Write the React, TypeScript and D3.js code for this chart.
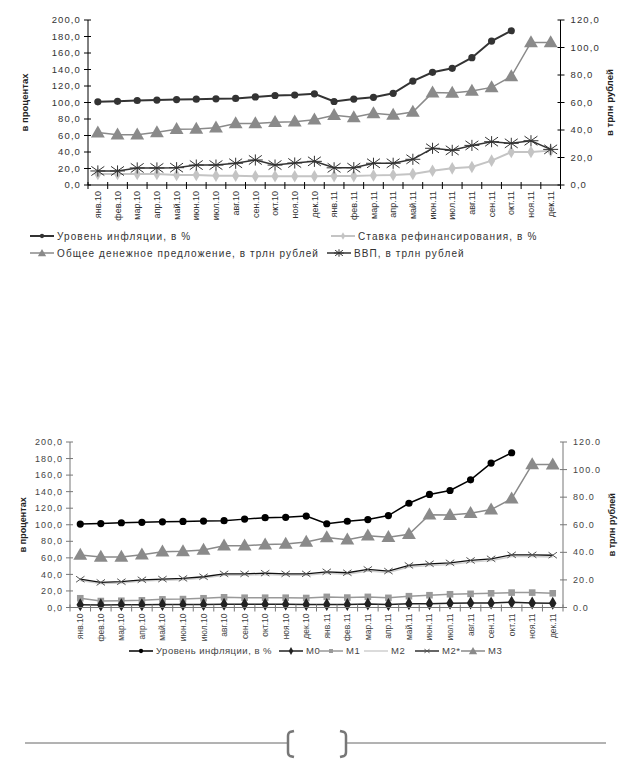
import * as d3 from 'd3';

// categories
const months = ['янв.10', 'фев.10', 'мар.10', 'апр.10', 'май.10', 'июн.10', 'июл.10', 'авг.10', 'сен.10', 'окт.10', 'ноя.10', 'дек.10',
  'янв.11', 'фев.11', 'мар.11', 'апр.11', 'май.11', 'июн.11', 'июл.11', 'авг.11', 'сен.11', 'окт.11', 'ноя.11', 'дек.11'];

// series values
const inflation = [100.8, 101.4, 102.4, 102.9, 103.5, 104.0, 104.5, 104.9, 106.8, 108.5, 109.0, 110.5,
  101.2, 104.2, 106.3, 111.1, 126.0, 136.6, 141.4, 154.3, 174.5, 187.0, null, null];
const refRate = [8.0, 8.0, 8.0, 8.0, 7.3, 7.3, 6.8, 6.8, 6.4, 6.4, 6.4, 6.4,
  6.5, 6.5, 7.0, 7.3, 8.0, 10.4, 12.1, 13.1, 17.7, 24.0, 24.0, 25.0];
const moneySupply = [38.1, 36.6, 36.6, 38.3, 40.5, 40.7, 41.7, 44.8, 44.8, 45.6, 46.0, 47.5,
  50.8, 49.2, 52.1, 50.9, 53.1, 67.2, 67.0, 68.4, 71.0, 78.9, 103.7, 103.6];
const gdp = [10.2, 10.2, 12.4, 12.4, 12.6, 14.5, 14.5, 15.8, 18.2, 14.5, 16.0, 17.2,
  12.5, 12.6, 15.8, 15.8, 18.7, 26.7, 25.2, 28.8, 31.5, 30.3, 32.2, 25.9];
const m0 = [2.0, 1.9, 2.0, 2.0, 2.1, 2.1, 2.2, 2.3, 2.3, 2.4, 2.4, 2.2,
  2.2, 2.2, 2.6, 2.2, 2.8, 2.8, 3.1, 3.3, 3.3, 3.8, 3.3, 3.1];
const m1 = [6.7, 4.7, 4.9, 5.2, 5.9, 6.1, 6.7, 7.4, 7.1, 7.1, 7.1, 6.9,
  7.7, 7.2, 7.7, 7.0, 8.2, 8.9, 9.6, 9.9, 10.3, 10.8, 10.8, 10.3];
const m2 = [19.6, 17.4, 17.8, 19.2, 19.7, 20.2, 21.4, 23.4, 23.4, 23.9, 23.4, 23.4,
  24.8, 24.1, 26.5, 25.3, 29.3, 30.5, 31.2, 32.9, 34.1, 36.9, 36.9, 36.6];
const m2star = [20.5, 18.2, 18.7, 20.1, 20.6, 21.1, 22.3, 24.4, 24.4, 24.9, 24.4, 24.4,
  25.9, 25.2, 27.6, 26.4, 30.5, 31.7, 32.4, 34.1, 35.3, 38.2, 38.2, 37.9];

// tick labels
const leftTicks = [0, 20, 40, 60, 80, 100, 120, 140, 160, 180, 200];
const rightTicks = [0, 20, 40, 60, 80, 100, 120];

const FONT = '"Liberation Sans", Arial, sans-serif';

type MarkerType = 'circle' | 'triangle' | 'diamond' | 'square' | 'star' | 'cross' | 'none';

type Series = {
  name: string
  values: (number | null)[]
  axis: 'left' | 'right'
  line: string
  fill: string
  marker: MarkerType
  width: number
  size: number
}

type LegendItem = { series: Series, x: number, y: number }

type ChartConfig = {
  left: number
  right: number
  top: number
  bottom: number
  series: Series[]
  legend: LegendItem[]
  textColor: string
  axisColor: string
  fontSize: number
  spacing: number
  legendSpacing: number
  rightSep: string
  titleLeft: number
  titleRight: number
}

const Marker = ({type, x, y, fill, stroke, size}: {type: MarkerType, x: number, y: number, fill: string, stroke: string, size: number}) => {
  switch (type) {
    case 'circle':
      return <circle cx={x} cy={y} r={size} fill={fill}/>;
    case 'triangle':
      return <path transform={`translate(${x},${y + 0.8})`} d={d3.symbol(d3.symbolTriangle, size * size * 5.2)() || ''} fill={fill}/>;
    case 'diamond':
      return <path transform={`translate(${x},${y})`} d={d3.symbol(d3.symbolDiamond, size * size * 4.5)() || ''} fill={fill}/>;
    case 'square':
      return <rect x={x - size} y={y - size} width={size * 2} height={size * 2} fill={fill}/>;
    case 'star': {
      const w = size * 1.7, h = size * 1.2;
      return <path d={`M${x - w},${y - h}L${x + w},${y + h}M${x - w},${y + h}L${x + w},${y - h}M${x},${y - h - 1}L${x},${y + h + 1}M${x - w - 1},${y}L${x + w + 1},${y}`}
                   stroke={stroke} strokeWidth={1} fill="none"/>;
    }
    case 'cross': {
      const w = size * 1.4, h = size;
      return <path d={`M${x - w},${y - h}L${x + w},${y + h}M${x - w},${y + h}L${x + w},${y - h}`}
                   stroke={stroke} strokeWidth={1} fill="none"/>;
    }
    default:
      return null;
  }
}

const Chart = ({cfg}: {cfg: ChartConfig}) => {
  const x = d3.scaleBand<string>().domain(months).range([cfg.left, cfg.right]);
  const yL = d3.scaleLinear().domain([0, 200]).range([cfg.bottom, cfg.top]);
  const yR = d3.scaleLinear().domain([0, 120]).range([cfg.bottom, cfg.top]);
  const cx = (i: number) => (x(months[i]) || 0) + x.bandwidth() / 2;
  const fmtL = (v: number) => d3.format('.1f')(v).replace('.', ',');
  const fmtR = (v: number) => d3.format('.1f')(v).replace('.', cfg.rightSep);
  const midY = (cfg.top + cfg.bottom) / 2;
  const txt = {fontFamily: FONT, fontSize: cfg.fontSize, fill: cfg.textColor, letterSpacing: cfg.spacing};

  return <g>
    {/* series lines and markers */}
    {cfg.series.map(s => {
      const y = s.axis === 'left' ? yL : yR;
      const line = d3.line<number | null>()
        .defined(d => d !== null)
        .x((_, i) => cx(i))
        .y(d => y(d as number));
      return <g key={s.name}>
        <path d={line(s.values) || ''} fill="none" stroke={s.line} strokeWidth={s.width}/>
        {s.values.map((v, i) => v === null ? null :
          <Marker key={i} type={s.marker} x={cx(i)} y={y(v)} fill={s.fill} stroke={s.fill} size={s.size}/>)}
      </g>;
    })}
    {/* axes */}
    <line x1={cfg.left} x2={cfg.left} y1={cfg.top} y2={cfg.bottom} stroke={cfg.axisColor}/>
    <line x1={cfg.right} x2={cfg.right} y1={cfg.top} y2={cfg.bottom} stroke={cfg.axisColor}/>
    <line x1={cfg.left} x2={cfg.right} y1={cfg.bottom} y2={cfg.bottom} stroke={cfg.axisColor}/>
    {leftTicks.map(t => <g key={'l' + t}>
      <line x1={cfg.left - 4} x2={cfg.left + 3} y1={yL(t)} y2={yL(t)} stroke={cfg.axisColor}/>
      <text x={cfg.left - 7} y={yL(t)} dy="0.35em" textAnchor="end" {...txt}>{fmtL(t)}</text>
    </g>)}
    {rightTicks.map(t => <g key={'r' + t}>
      <line x1={cfg.right - 3} x2={cfg.right + 4} y1={yR(t)} y2={yR(t)} stroke={cfg.axisColor}/>
      <text x={cfg.right + 10} y={yR(t)} dy="0.35em" textAnchor="start" {...txt}>{fmtR(t)}</text>
    </g>)}
    {d3.range(months.length + 1).map(i => {
      const xx = cfg.left + i * x.bandwidth();
      return <line key={'t' + i} x1={xx} x2={xx} y1={cfg.bottom - 3} y2={cfg.bottom + 4} stroke={cfg.axisColor}/>;
    })}
    {months.map((m, i) =>
      <text key={m} transform={`translate(${cx(i)},${cfg.bottom + 6}) rotate(-90)`} dy="0.35em" textAnchor="end"
            fontFamily={FONT} fontSize={cfg.fontSize - 0.5} fill={cfg.textColor}>{m}</text>)}
    {/* axis titles */}
    <text transform={`translate(${cfg.titleLeft},${midY}) rotate(-90)`} dy="0.35em" textAnchor="middle"
          fontFamily={FONT} fontSize={cfg.fontSize} fontWeight="bold" fill="#222">в процентах</text>
    <text transform={`translate(${cfg.titleRight},${midY}) rotate(-90)`} dy="0.35em" textAnchor="middle"
          fontFamily={FONT} fontSize={cfg.fontSize} fontWeight="bold" fill="#222">в трлн рублей</text>
    {/* legend */}
    {cfg.legend.map(({series: s, x: lx, y: ly}) => <g key={'lg' + s.name}>
      <line x1={lx} x2={lx + 24} y1={ly} y2={ly} stroke={s.line} strokeWidth={s.width}/>
      <Marker type={s.marker} x={lx + 12} y={ly} fill={s.fill} stroke={s.fill} size={s.size * 0.6}/>
      <text x={lx + 27} y={ly} dy="0.35em" {...txt} fontSize={cfg.fontSize + 0.5} letterSpacing={cfg.legendSpacing}>{s.name}</text>
    </g>)}
  </g>;
}

// top chart series
const sInfl: Series = {name: 'Уровень инфляции, в %', values: inflation, axis: 'left', line: '#333', fill: '#333', marker: 'circle', width: 2, size: 3.6};
const sRef: Series = {name: 'Ставка рефинансирования, в %', values: refRate, axis: 'right', line: '#c4c4c4', fill: '#c4c4c4', marker: 'diamond', width: 2, size: 3.2};
const sMoney: Series = {name: 'Общее денежное предложение, в трлн рублей', values: moneySupply, axis: 'right', line: '#8a8a8a', fill: '#8a8a8a', marker: 'triangle', width: 1.5, size: 4};
const sGdp: Series = {name: 'ВВП, в трлн рублей', values: gdp, axis: 'right', line: '#333', fill: '#333', marker: 'star', width: 1.5, size: 3.8};

// bottom chart series
const bInfl: Series = {name: 'Уровень инфляции, в %', values: inflation, axis: 'left', line: '#000', fill: '#000', marker: 'circle', width: 1.5, size: 3.6};
const bM0: Series = {name: 'M0', values: m0, axis: 'right', line: '#222', fill: '#222', marker: 'diamond', width: 1.5, size: 3.3};
const bM1: Series = {name: 'M1', values: m1, axis: 'right', line: '#999', fill: '#999', marker: 'square', width: 1.5, size: 3.3};
const bM2: Series = {name: 'M2', values: m2, axis: 'right', line: '#cfcfcf', fill: '#cfcfcf', marker: 'none', width: 1.5, size: 3};
const bM2s: Series = {name: 'M2*', values: m2star, axis: 'right', line: '#111', fill: '#555', marker: 'cross', width: 1.3, size: 3};
const bM3: Series = {name: 'M3', values: moneySupply, axis: 'right', line: '#8a8a8a', fill: '#8a8a8a', marker: 'triangle', width: 1.5, size: 4};

const topCfg: ChartConfig = {
  left: 88, right: 560.5, top: 20, bottom: 185,
  series: [sRef, sGdp, sMoney, sInfl],
  legend: [
    {series: sInfl, x: 30, y: 236},
    {series: sRef, x: 331, y: 236},
    {series: sMoney, x: 30, y: 253},
    {series: sGdp, x: 327, y: 253},
  ],
  textColor: '#333', axisColor: '#000', fontSize: 9.5, spacing: 1.1, legendSpacing: 1.1, rightSep: ',',
  titleLeft: 25, titleRight: 610,
};

const bottomCfg: ChartConfig = {
  left: 70, right: 563, top: 442, bottom: 607.5,
  series: [bM2, bM2s, bM1, bM0, bM3, bInfl],
  legend: [
    {series: bInfl, x: 129, y: 651},
    {series: bM0, x: 279, y: 651},
    {series: bM1, x: 319, y: 651},
    {series: bM2, x: 364, y: 651},
    {series: bM2s, x: 415, y: 651},
    {series: bM3, x: 461, y: 651},
  ],
  textColor: '#444', axisColor: '#777', fontSize: 9, spacing: 1.1, legendSpacing: 0.5, rightSep: '.',
  titleLeft: 23, titleRight: 612,
};

const Bracket = ({x, dir}: {x: number, dir: number}) =>
  <path d={`M${x + dir * 6},731 L${x + dir * 2},732 Q${x},733 ${x},736 L${x},752 Q${x},755 ${x + dir * 2},756 L${x + dir * 6},757`}
        fill="none" stroke="#777" strokeWidth={2.5}/>;

export default function App() {
  return <svg width={632} height={763} style={{position: 'absolute', left: 0, top: 0, background: '#fff'}}>
    <rect width={632} height={763} fill="#fff"/>
    <Chart cfg={topCfg}/>
    <Chart cfg={bottomCfg}/>
    {/* page footer */}
    <line x1={25} x2={288} y1={743} y2={743} stroke="#666" strokeWidth={1}/>
    <line x1={346} x2={606} y1={743} y2={743} stroke="#666" strokeWidth={1}/>
    <Bracket x={288} dir={1}/>
    <Bracket x={346} dir={-1}/>
  </svg>;
}
